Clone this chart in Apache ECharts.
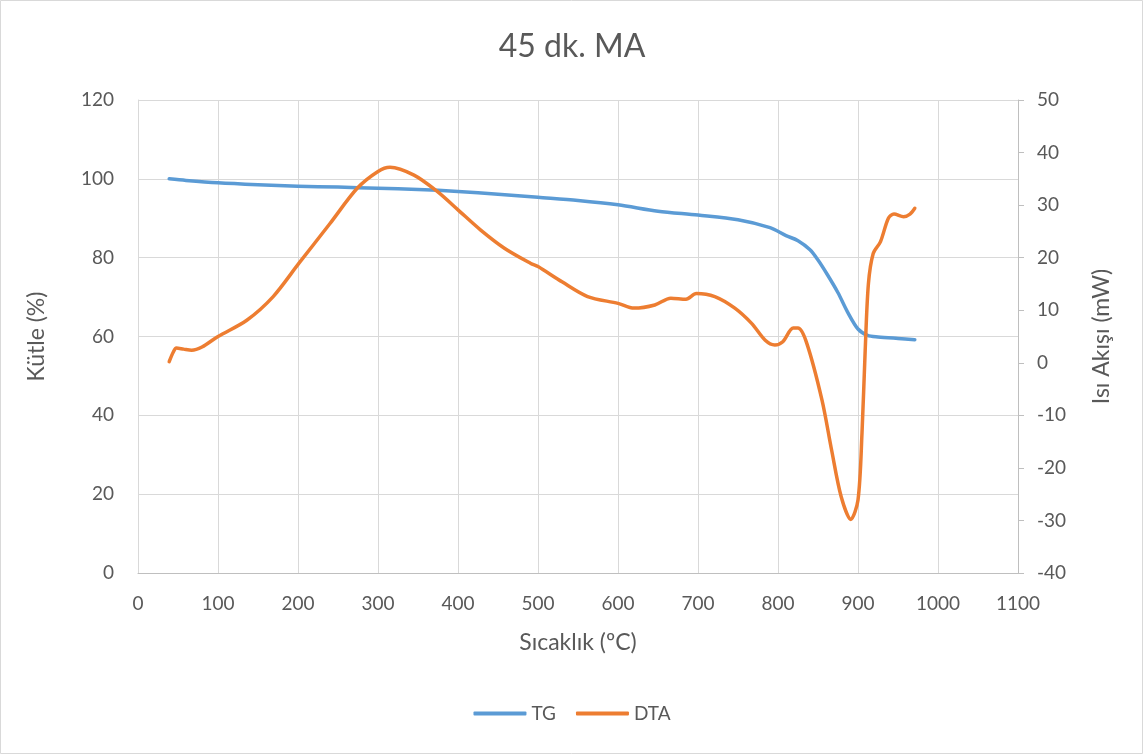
<!DOCTYPE html>
<html>
<head>
<meta charset="utf-8">
<title>45 dk. MA</title>
<script src="https://cdn.jsdelivr.net/npm/echarts@6/dist/echarts.min.js"></script>
<style>
  html, body { margin: 0; padding: 0; background: #fff; }
  #chart { width: 1144px; height: 755px; }
</style>
</head>
<body>
<div id="chart"></div>
<script>
// Thermogravimetric (TG) mass curve, temperature in °C and mass in %
const tgTemp = [39, 60, 100, 150, 200, 250, 300, 350, 400, 450, 500, 550, 600, 650, 700, 750, 790, 810, 825, 840, 850, 862, 875, 887, 900, 912, 925, 950, 971];
const tgMass = [100.0, 99.6, 99.0, 98.5, 98.1, 97.9, 97.6, 97.3, 96.8, 96.1, 95.3, 94.5, 93.4, 91.8, 90.8, 89.6, 87.6, 85.6, 84.3, 82.0, 79.4, 75.6, 71.1, 66.2, 61.9, 60.3, 59.9, 59.5, 59.2];

// Differential thermal analysis (DTA) heat flow, temperature in °C and heat flow in mW
const dtaTemp = [39, 44, 48, 57, 67, 80, 100, 136, 169, 201, 240, 274, 300, 315, 345, 374, 400, 428, 458, 491, 500, 530, 562, 600, 620, 646, 666, 685, 698, 721, 746, 767, 784, 796, 806, 819, 825, 836, 855, 867, 879, 891, 900, 905, 909, 913, 919, 928, 938, 945, 957, 965, 971];
const dtaFlow = [0.2, 2.0, 2.8, 2.6, 2.4, 3.0, 5.0, 8.1, 12.6, 18.9, 26.5, 33.2, 36.4, 37.2, 35.7, 32.6, 29.1, 25.3, 21.8, 18.9, 18.3, 15.4, 12.6, 11.3, 10.4, 11.0, 12.3, 12.1, 13.2, 12.6, 10.4, 7.5, 4.3, 3.4, 4.0, 6.6, 6.6, 3.7, -7.1, -16.6, -25.5, -29.8, -26.1, -13.4, 2.4, 15.0, 20.8, 23.0, 27.5, 28.3, 27.8, 28.3, 29.4];

// Axis ranges and titles
const xRange = { min: 0, max: 1100, step: 100 };
const massRange = { min: 0, max: 120, step: 20 };
const flowRange = { min: -40, max: 50, step: 10 };
const titleText = '45 dk. MA';
const xName = 'Sıcaklık (ºC)';
const massName = 'Kütle (%)';
const flowName = 'Isı Akışı (mW)';
const seriesNames = ['TG', 'DTA'];

const pairs = (xs, ys) => xs.map((x, i) => [x, ys[i]]);
const plain = v => String(v);

const textColor = '#595959';
const gridColor = '#D9D9D9';
const axisColor = '#BFBFBF';
const font = 'Lato, "Open Sans", sans-serif';

const chart = echarts.init(document.getElementById('chart'));
chart.setOption({
  animation: false,
  backgroundColor: '#fff',
  textStyle: { fontFamily: font, color: textColor },
  graphic: [{
    type: 'rect',
    shape: { x: 0.5, y: 0.5, width: 1142, height: 753 },
    style: { fill: 'none', stroke: gridColor, lineWidth: 1 },
    silent: true
  }],
  title: {
    text: titleText,
    left: 'center',
    top: 26,
    textStyle: { fontFamily: font, fontSize: 32, fontWeight: 'normal', color: textColor }
  },
  legend: {
    data: seriesNames,
    bottom: 27,
    left: 'center',
    icon: 'roundRect',
    itemWidth: 53,
    itemHeight: 4,
    itemGap: 20,
    textStyle: { fontFamily: font, fontSize: 19, color: textColor }
  },
  grid: { left: 138, right: 126, top: 100, bottom: 182 },
  xAxis: {
    type: 'value',
    min: xRange.min, max: xRange.max, interval: xRange.step,
    name: xName,
    nameLocation: 'middle',
    nameGap: 58,
    nameTextStyle: { fontFamily: font, fontSize: 23, color: textColor },
    axisLine: { show: true, lineStyle: { color: axisColor, width: 1 } },
    axisTick: { show: false },
    axisLabel: { margin: 21, fontFamily: font, fontSize: 19, color: textColor, formatter: plain },
    splitLine: { show: true, lineStyle: { color: gridColor, width: 1 } }
  },
  yAxis: [{
    type: 'value',
    position: 'left',
    min: massRange.min, max: massRange.max, interval: massRange.step,
    name: massName,
    nameLocation: 'middle',
    nameGap: 90,
    nameTextStyle: { fontFamily: font, fontSize: 23, color: textColor },
    axisLine: { show: true, lineStyle: { color: gridColor, width: 1 } },
    axisTick: { show: false },
    axisLabel: { margin: 24, fontFamily: font, fontSize: 19, color: textColor, formatter: plain },
    splitLine: { show: true, lineStyle: { color: gridColor, width: 1 } }
  }, {
    type: 'value',
    position: 'right',
    min: flowRange.min, max: flowRange.max, interval: flowRange.step,
    name: flowName,
    nameLocation: 'middle',
    nameGap: 72,
    nameTextStyle: { fontFamily: font, fontSize: 23, color: textColor },
    axisLine: { show: true, lineStyle: { color: axisColor, width: 1 } },
    axisTick: { show: true, inside: false, length: 6, lineStyle: { color: axisColor } },
    axisLabel: { margin: 19, fontFamily: font, fontSize: 19, color: textColor, formatter: plain },
    splitLine: { show: false }
  }],
  series: [{
    name: seriesNames[0],
    type: 'line',
    yAxisIndex: 0,
    data: pairs(tgTemp, tgMass),
    smooth: 0.3,
    showSymbol: false,
    lineStyle: { color: '#5B9BD5', width: 3.5, cap: 'round', join: 'round' },
    itemStyle: { color: '#5B9BD5' },
    z: 2
  }, {
    name: seriesNames[1],
    type: 'line',
    yAxisIndex: 1,
    data: pairs(dtaTemp, dtaFlow),
    smooth: 0.3,
    showSymbol: false,
    lineStyle: { color: '#ED7D31', width: 3.5, cap: 'round', join: 'round' },
    itemStyle: { color: '#ED7D31' },
    z: 3
  }]
});
</script>
</body>
</html>
